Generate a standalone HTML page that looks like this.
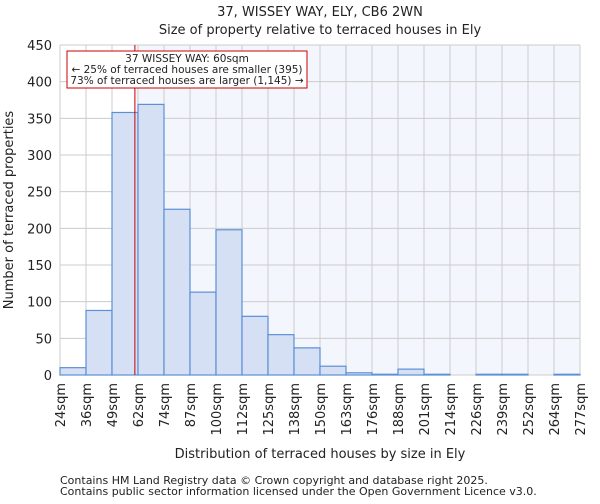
<!DOCTYPE html>
<html><head><meta charset="utf-8"><style>
body{margin:0;background:#fff;font-family:"DejaVu Sans","Liberation Sans",sans-serif;}
svg text{font-family:"DejaVu Sans","Liberation Sans",sans-serif;fill:#222;}
</style></head><body>
<svg id="chart" width="600" height="500" xmlns="http://www.w3.org/2000/svg">
<text x="320" y="16" font-size="13" text-anchor="middle">37, WISSEY WAY, ELY, CB6 2WN</text>
<text x="320" y="34" font-size="13" text-anchor="middle">Size of property relative to terraced houses in Ely</text>
<g id="plot"></g>
<text x="320" y="458" font-size="13" text-anchor="middle">Distribution of terraced houses by size in Ely</text>
<text transform="translate(13,210) rotate(-90)" font-size="13" text-anchor="middle">Number of terraced properties</text>
<text x="60" y="484" font-size="11" fill="#444">Contains HM Land Registry data © Crown copyright and database right 2025.</text>
<text x="60" y="495" font-size="11" fill="#444">Contains public sector information licensed under the Open Government Licence v3.0.</text>
</svg>
<script>
const binLabels=["24sqm","36sqm","49sqm","62sqm","74sqm","87sqm","100sqm","112sqm","125sqm","138sqm","150sqm","163sqm","176sqm","188sqm","201sqm","214sqm","226sqm","239sqm","252sqm","264sqm","277sqm"];
const counts=[10,88,358,369,226,113,198,80,55,37,12,3,1,8,1,0,1,1,0,1];
const yTicks=[0,50,100,150,200,250,300,350,400,450];
const markerPos=2.88; // bin-index position of 60sqm
const X0=60,X1=580,Y0=375,Y1=45,YMAX=450;
const ns="http://www.w3.org/2000/svg";
const g=document.getElementById('plot');
const bw=(X1-X0)/counts.length;
const xs=i=>X0+i*bw;
const ys=v=>Y0-(v/YMAX)*(Y0-Y1);
function mk(t,a,p){const e=document.createElementNS(ns,t);for(const k in a)e.setAttribute(k,a[k]);(p||g).appendChild(e);return e;}
const mx=xs(markerPos);
let bg=mk('rect',{x:mx,y:Y1,width:X1-mx,height:Y0-Y1,fill:'#f3f6fd'});


yTicks.forEach(t=>{
 let l=mk('line',{x1:X0,x2:X1,y1:ys(t),y2:ys(t),stroke:'#ccc'});
 
 
 let tx=mk('text',{x:X0-8,y:ys(t)+5,'font-size':13,'text-anchor':'end'});tx.textContent=t;
 
 
});
binLabels.forEach((b,i)=>{
 let l=mk('line',{x1:xs(i),x2:xs(i),y1:Y1,y2:Y0,stroke:'#ccc'});
 
 
 let tx=mk('text',{transform:`translate(${xs(i)+5},${Y0+8}) rotate(-90)`,'font-size':13,'text-anchor':'end'});tx.textContent=b;
 
 
});
counts.forEach((c,i)=>{
 if(c<=0)return;
 let r=mk('rect',{x:xs(i),y:ys(c),width:bw,height:Y0-ys(c),fill:'#d6e0f5',stroke:'#5b8fd6','stroke-width':1.2});
 
 
});
let ml=mk('line',{x1:mx,x2:mx,y1:Y1,y2:Y0,stroke:'#c00','stroke-width':1});


let box=mk('rect',{x:67,y:51,width:240,height:37,fill:'#fff',stroke:'#c00'});


["37 WISSEY WAY: 60sqm","← 25% of terraced houses are smaller (395)","73% of terraced houses are larger (1,145) →"].forEach((s,i)=>{
 let t=mk('text',{x:187,y:62+i*11,'font-size':10.5,'text-anchor':'middle'});t.textContent=s;
 
 
});
</script>
</body></html>
